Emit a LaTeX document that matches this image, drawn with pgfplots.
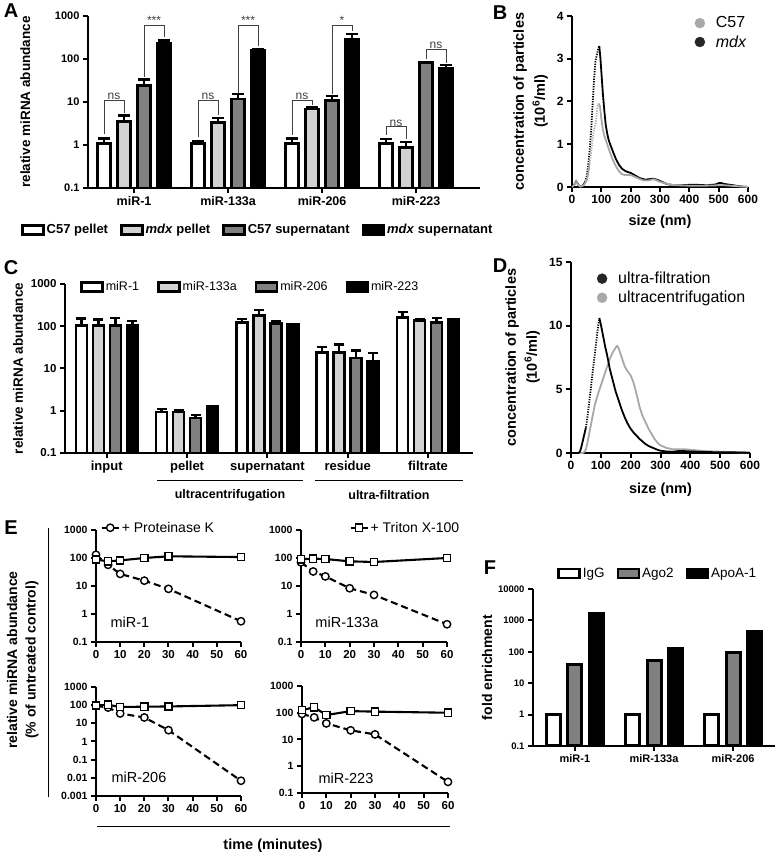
\documentclass[border=0pt]{standalone}
\usepackage{fontspec}
\setmainfont{Liberation Sans}
\usepackage{pgfplots}
\pgfplotsset{compat=1.18}
\definecolor{lg}{HTML}{D2D2D2}
\definecolor{dg}{HTML}{808080}
\definecolor{cg}{HTML}{A8A8A8}
\pgfplotsset{
  prism/.style={scale only axis, axis lines=left, axis line style={line width=2pt,-}, tick align=outside,
    major tick length=5pt, tick style={line width=2pt, black}, /pgf/number format/assume math mode=true,
    xminorticks=false, yminorticks=false, clip=false, anchor=south west},
  barleg/.style={legend image code/.code={\draw[##1, line width=2.5pt] (0pt,-4.5pt) rectangle (21pt,4.5pt);}},
  eb/.style={ycomb, forget plot, black, line width=2.5pt, mark=-, mark size=#1, mark options={line width=2.5pt}},
  estyle/.style={prism, xmin=0, xmax=60, xtick={0,10,...,60},
   xticklabel style={font=\bfseries\fs{11.5}}, yticklabel style={font=\bfseries\fs{10.5}},
   legend style={draw=none, fill=none, anchor=west, font=\fs{14}}, legend cell align=left},
  pk/.style={black, line width=2.1pt, dash pattern=on 7pt off 4pt, mark=*, mark size=3.7pt, mark options={solid, fill=white, draw=black, line width=1.4pt}},
  tx/.style={black, line width=2.1pt, mark=square*, mark size=3.6pt, mark options={solid, fill=white, draw=black, line width=1.4pt}},
}
\newcommand{\fs}[1]{\fontsize{#1}{#1}\selectfont}
\begin{document}
\begin{tikzpicture}
\useasboundingbox (0,0) rectangle (777pt,856pt);
% ---------------- Panel A
\begin{axis}[prism, at={(88pt,668pt)}, width=392pt, height=172pt,
 ymode=log, log origin y=infty, ymin=0.1, ymax=1000,
 ytick={0.1,1,10,100,1000}, yticklabels={0.1,1,10,100,1000},
 xmin=-0.49, xmax=3.68, xtick={0,1,2,3}, xticklabels={miR-1,miR-133a,miR-206,miR-223},
 ybar=7pt, bar width=13pt,
 yticklabel style={font=\bfseries\fs{11}},
 xticklabel style={font=\bfseries\fs{12.5}},
 ylabel={relative miRNA abundance},
 ylabel style={font=\bfseries\fs{13.5}, at={(axis description cs:-0.16,0.5)}, anchor=center},
 legend columns=4,
 legend style={draw=none, fill=none, at={(-0.171,-0.244)}, anchor=west, font=\bfseries\fs{13},
   /tikz/every even column/.append style={column sep=10pt}, inner sep=0pt},
 legend cell align=left]
% error bars (upper ends: mean + SEM)
\addplot[eb=6pt] coordinates {(-0.3191,1.40) (0.6809,1.20) (1.6809,1.40) (2.6809,1.38)};
\addplot[eb=6pt] coordinates {(-0.1064,4.9) (0.8936,4.2) (1.8936,7.5) (2.8936,1.17)};
\addplot[eb=6pt] coordinates {(0.1064,33) (1.1064,15.2) (2.1064,13.8) (3.1064,86)};
\addplot[eb=6pt] coordinates {(0.3191,270) (1.3191,170) (2.3191,385) (3.3191,72)};
% bars
\addplot[fill=white, draw=black, line width=2.7pt, barleg] coordinates {(0,1.07) (1,1.07) (2,1.07) (3,1.07)};
\addplot[fill=lg, draw=black, line width=2.7pt, barleg] coordinates {(0,3.5) (1,3.3) (2,6.9) (3,0.89)};
\addplot[fill=dg, draw=black, line width=2.7pt, barleg] coordinates {(0,24) (1,11.7) (2,10.7) (3,83)};
\addplot[fill=black, draw=black, line width=2.7pt, barleg] coordinates {(0,237) (1,160) (2,293) (3,61)};
\legend{C57 pellet, \textit{mdx} pellet, C57 supernatant, \textit{mdx} supernatant}
% significance brackets
\tikzset{br/.style={line width=1pt, black!75}, brt/.style={anchor=south, inner sep=0.5pt, text=black!75, font=\fs{12}}}
\draw[br] (axis cs:-0.3191,1.85) |- (axis cs:-0.1064,11.1) -- (axis cs:-0.1064,5.4);
\node[brt] at (axis cs:-0.2128,11.1) {ns};
\draw[br] (axis cs:0.1064,38) |- (axis cs:0.3191,600) -- (axis cs:0.3191,330);
\node[brt] at (axis cs:0.2128,600) {***};
\draw[br] (axis cs:0.6809,1.5) |- (axis cs:0.8936,11.1) -- (axis cs:0.8936,5.0);
\node[brt] at (axis cs:0.7872,11.1) {ns};
\draw[br] (axis cs:1.1064,16.6) |- (axis cs:1.3191,600) -- (axis cs:1.3191,200);
\node[brt] at (axis cs:1.2128,600) {***};
\draw[br] (axis cs:1.6809,1.7) |- (axis cs:1.8936,11.1) -- (axis cs:1.8936,8.5);
\node[brt] at (axis cs:1.7872,11.1) {ns};
\draw[br] (axis cs:2.1064,15) |- (axis cs:2.3191,600) -- (axis cs:2.3191,445);
\node[brt] at (axis cs:2.2128,600) {*};
\draw[br] (axis cs:2.6809,1.7) |- (axis cs:2.8936,2.63) -- (axis cs:2.8936,1.4);
\node[brt] at (axis cs:2.7872,2.63) {ns};
\draw[br] (axis cs:3.1064,100) |- (axis cs:3.3191,165) -- (axis cs:3.3191,80);
\node[brt] at (axis cs:3.2128,165) {ns};
\end{axis}
% ---------------- Panel B
\begin{axis}[prism, at={(572pt,669pt)}, width=176pt, height=171pt,
 xmin=0, xmax=600, ymin=0, ymax=4, xtick={0,100,...,600}, ytick={0,1,2,3,4},
 ticklabel style={font=\bfseries\fs{12}},
 xlabel={size (nm)}, xlabel style={font=\bfseries\fs{14.5}, at={(axis description cs:0.5,-0.205)}, anchor=center},
 ylabel={concentration of particles\\(10\textsuperscript{6}/ml)},
 ylabel style={align=center, font=\bfseries\fontsize{14.5}{21}\selectfont, at={(axis description cs:-0.235,0.5)}, anchor=center},
 legend style={draw=none, fill=none, at={(0.68,1.02)}, anchor=north west, font=\fs{16}, row sep=2pt,
   /tikz/every odd column/.append style={column sep=9pt}},
 legend cell align=left]
\addlegendimage{only marks, mark=*, mark size=5pt, color=cg}
\addlegendentry{C57}
\addlegendimage{only marks, mark=*, mark size=5pt, color=black!85}
\addlegendentry{\textit{mdx}}
\addplot[black, line width=1.8pt, forget plot] coordinates {(0,0) (5,0.03) (10,0.08) (14,0.13) (18,0.09) (24,0.03) (30,0.01) (38,0.04) (45,0.12)};
\addplot[black, line width=1.8pt, dash pattern=on 1.2pt off 1.3pt, forget plot] coordinates {(45,0.12) (50,0.25) (55,0.5) (60,0.85) (65,1.3) (70,1.9) (75,2.5) (80,2.95) (85,3.1) (90,3.25) (93,3.3)};
\addplot[black, line width=1.8pt, forget plot] coordinates {(93,3.3) (97,3.0) (100,2.7) (105,2.2) (110,1.8) (115,1.45) (120,1.25) (125,1.1) (130,1.0) (140,0.82) (150,0.65) (160,0.52) (170,0.43) (180,0.38) (190,0.35) (200,0.33) (210,0.29) (220,0.25) (230,0.21) (240,0.19) (250,0.17) (260,0.18) (270,0.19) (280,0.19) (290,0.17) (300,0.14) (310,0.11) (320,0.08) (330,0.06) (350,0.04) (370,0.04) (400,0.05) (430,0.05) (460,0.04) (490,0.06) (500,0.09) (510,0.09) (520,0.07) (540,0.05) (560,0.03) (580,0.01) (600,0)};
\addplot[cg, line width=1.8pt, forget plot] coordinates {(0,0) (5,0.03) (10,0.07) (14,0.12) (18,0.08) (24,0.03) (30,0.01) (40,0.04) (50,0.15) (55,0.3) (60,0.55)};
\addplot[cg, line width=1.8pt, dash pattern=on 1.2pt off 1.3pt, forget plot] coordinates {(60,0.55) (65,0.8) (70,1.1) (75,1.35) (78,1.4) (82,1.55) (86,1.85) (90,1.95)};
\addplot[cg, line width=1.8pt, forget plot] coordinates {(90,1.95) (95,1.9) (100,1.6) (105,1.35) (110,1.2) (115,1.1) (120,1.0) (130,0.8) (140,0.62) (150,0.48) (160,0.37) (170,0.3) (180,0.28) (190,0.28) (200,0.28) (210,0.25) (220,0.22) (230,0.19) (240,0.16) (250,0.15) (260,0.15) (270,0.17) (280,0.18) (290,0.15) (300,0.12) (320,0.08) (340,0.05) (360,0.04) (400,0.03) (450,0.03) (500,0.04) (520,0.04) (560,0.02) (600,0)};
\end{axis}
% ---------------- Panel C
\begin{axis}[prism, at={(65pt,403pt)}, width=408pt, height=169pt,
 ymode=log, log origin y=infty, ymin=0.1, ymax=1000,
 ytick={0.1,1,10,100,1000}, yticklabels={0.1,1,10,100,1000},
 xmin=-0.52, xmax=4.56, xtick={0,1,2,3,4}, xticklabels={input,pellet,supernatant,residue,filtrate},
 ybar=6pt, bar width=11pt,
 yticklabel style={font=\bfseries\fs{11.5}},
 xticklabel style={font=\bfseries\fs{13}},
 ylabel={relative miRNA abundance},
 ylabel style={font=\bfseries\fs{13.5}, at={(axis description cs:-0.115,0.5)}, anchor=center},
 legend columns=4,
 legend style={draw=none, fill=none, at={(0.037,0.982)}, anchor=west, font=\fs{12.5},
   /tikz/every even column/.append style={column sep=16pt}, inner sep=0pt},
 legend cell align=left]
% error bars (upper ends)
\addplot[eb=5pt] coordinates {(-0.3175,151) (0.6825,1.10) (1.6825,150) (2.6825,32) (3.6825,215)};
\addplot[eb=5pt] coordinates {(-0.1058,143) (0.8942,1.01) (1.8942,240) (2.8942,37) (3.8942,145)};
\addplot[eb=5pt] coordinates {(0.1058,156) (1.1058,0.80) (2.1058,128) (3.1058,27) (4.1058,155)};
\addplot[eb=5pt] coordinates {(0.3175,133) (1.3175,1.31) (2.3175,114) (3.3175,23) (4.3175,150)};
% bars
\addplot[fill=white, draw=black, line width=2.5pt, barleg] coordinates {(0,105) (1,0.93) (2,124) (3,24) (4,163)};
\addplot[fill=lg, draw=black, line width=2.5pt, barleg] coordinates {(0,105) (1,0.93) (2,180) (3,24) (4,138)};
\addplot[fill=dg, draw=black, line width=2.5pt, barleg] coordinates {(0,105) (1,0.67) (2,117) (3,17.5) (4,124)};
\addplot[fill=black, draw=black, line width=2.5pt, barleg] coordinates {(0,105) (1,1.26) (2,112) (3,15) (4,146)};
\legend{miR-1, miR-133a, miR-206, miR-223}
\end{axis}
\draw[line width=1pt] (157pt,375pt) -- (303pt,375pt);
\draw[line width=1pt] (315pt,375pt) -- (463pt,375pt);
\node[font=\bfseries\fs{12.5}] at (230pt,361pt) {ultracentrifugation};
\node[font=\bfseries\fs{12.5}] at (389pt,361pt) {ultra-filtration};
% ---------------- Panel D
\begin{axis}[prism, at={(571pt,403pt)}, width=179pt, height=191pt,
 xmin=0, xmax=600, ymin=0, ymax=15, xtick={0,100,...,600}, ytick={0,5,10,15},
 ticklabel style={font=\bfseries\fs{12}},
 xlabel={size (nm)}, xlabel style={font=\bfseries\fs{14.5}, at={(axis description cs:0.5,-0.194)}, anchor=center},
 ylabel={concentration of particles\\(10\textsuperscript{6}/ml)},
 ylabel style={align=center, font=\bfseries\fontsize{14.5}{21}\selectfont, at={(axis description cs:-0.27,0.5)}, anchor=center},
 legend style={draw=none, fill=none, at={(0.128,0.969)}, anchor=north west, font=\fs{16}, row sep=2pt,
   /tikz/every odd column/.append style={column sep=9pt}},
 legend cell align=left]
\addlegendimage{only marks, mark=*, mark size=5pt, color=black!85}
\addlegendentry{ultra-filtration}
\addlegendimage{only marks, mark=*, mark size=5pt, color=cg}
\addlegendentry{ultracentrifugation}
\addplot[cg, line width=1.8pt, forget plot] coordinates {(0,0) (40,0) (45,0.1) (50,0.3) (55,0.8) (60,1.4) (70,2.6) (80,3.8) (90,4.6) (100,5.3) (110,6.0) (120,6.7) (126,7.1) (130,7.4) (140,7.9) (150,8.3) (155,8.4) (160,8.2) (170,7.5) (180,6.8) (190,6.4) (200,6.1) (210,5.5) (220,4.6) (230,3.6) (240,2.9) (250,2.4) (260,1.9) (270,1.5) (280,1.1) (290,0.8) (300,0.6) (320,0.4) (340,0.3) (360,0.3) (380,0.3) (400,0.25) (450,0.15) (500,0.1) (550,0.06) (600,0.03)};
\addplot[black, line width=1.8pt, forget plot] coordinates {(0,0) (25,0) (30,0.1) (35,0.5) (40,1.0) (45,1.5) (50,2.0)};
\addplot[black, line width=1.8pt, dash pattern=on 1.2pt off 1.3pt, forget plot] coordinates {(50,2.0) (55,2.8) (60,3.8) (65,4.8) (70,5.8) (75,6.8) (80,7.8) (85,8.8) (90,9.8) (95,10.6)};
\addplot[black, line width=1.8pt, forget plot] coordinates {(95,10.6) (100,10.1) (105,9.5) (110,8.9) (115,8.3) (120,7.8) (126,7.1) (130,6.6) (140,5.7) (150,4.8) (160,4.1) (170,3.4) (180,2.8) (190,2.3) (200,1.9) (210,1.6) (220,1.35) (230,1.1) (240,0.9) (250,0.7) (260,0.55) (270,0.45) (280,0.35) (290,0.25) (300,0.18) (320,0.12) (340,0.1) (360,0.15) (380,0.15) (400,0.12) (450,0.08) (500,0.05) (550,0.05) (600,0.02)};
\end{axis}
% ---------------- Panel E
\begin{axis}[estyle, ymode=log, at={(96pt,214pt)}, width=145pt, height=112pt, ymin=0.1, ymax=1000,
 ytick={0.1,1,10,100,1000}, yticklabels={0.1,1,10,100,1000}, legend style={at={(0.01,1.02)}}]
\addplot[pk] coordinates {(0,130) (5,57) (10,27) (20,15.5) (30,7.9) (60,0.55)};
\addlegendentry{+ Proteinase K}
\addplot[tx, forget plot] coordinates {(0,88) (5,76) (10,82) (20,100) (30,115) (60,108)};
\node[anchor=west, font=\fs{14.5}] at (rel axis cs:0.076,0.18) {miR-1};
\end{axis}
\begin{axis}[estyle, ymode=log, at={(301pt,214pt)}, width=146pt, height=112pt, ymin=0.1, ymax=1000,
 ytick={0.1,1,10,100,1000}, yticklabels={0.1,1,10,100,1000}, legend style={at={(0.31,1.02)}}]
\addplot[pk, forget plot] coordinates {(0,70) (5,33) (10,22) (20,8.3) (30,4.8) (60,0.43)};
\addplot[tx] coordinates {(0,90) (5,95) (10,92) (20,76) (30,72) (60,100)};
\addlegendentry{+ Triton X-100}
\node[anchor=west, font=\fs{14.5}] at (rel axis cs:0.075,0.18) {miR-133a};
\end{axis}
\begin{axis}[estyle, ymode=log, at={(96pt,60pt)}, width=145pt, height=109pt, ymin=0.001, ymax=1000,
 ytick={0.001,0.01,0.1,1,10,100,1000}, yticklabels={0.001,0.01,0.1,1,10,100,1000}]
\addplot[pk] coordinates {(0,92) (5,74) (10,35) (20,21) (30,4.2) (60,0.0069)};
\addplot[tx] coordinates {(0,95) (5,105) (10,80) (20,82) (30,85) (60,100)};
\node[anchor=west, font=\fs{14.5}] at (rel axis cs:0.083,0.174) {miR-206};
\end{axis}
\begin{axis}[estyle, ymode=log, at={(302pt,63pt)}, width=146pt, height=107pt, ymin=0.1, ymax=1000,
 ytick={0.1,1,10,100,1000}, yticklabels={0.1,1,10,100,1000}]
\addplot[pk] coordinates {(0,90) (5,67) (10,40) (20,22) (30,15.5) (60,0.26)};
\addplot[tx] coordinates {(0,125) (5,160) (10,82) (20,115) (30,110) (60,100)};
\node[anchor=west, font=\fs{14.5}] at (rel axis cs:0.089,0.14) {miR-223};
\end{axis}
\draw[line width=1pt] (48pt,328pt) -- (48pt,59pt);
\draw[line width=1pt] (97pt,29pt) -- (450pt,29pt);
\node[font=\bfseries\fs{14.5}] at (273pt,10pt) {time (minutes)};
\node[rotate=90, font=\bfseries\fs{14}] at (12pt,196pt) {relative miRNA abundance};
\node[rotate=90, font=\bfseries\fs{14}] at (32pt,196pt) {(\% of untreated control)};
% ---------------- Panel F
\begin{axis}[prism, at={(533pt,110pt)}, width=242pt, height=157pt,
 ymode=log, log origin y=infty, ymin=0.1, ymax=10000,
 ytick={0.1,1,10,100,1000,10000}, yticklabels={0.1,1,10,100,1000,10000},
 xmin=-0.53, xmax=2.53, xtick={0,1,2}, xticklabels={miR-1,miR-133a,miR-206},
 ybar=7.7pt, bar width=14pt,
 yticklabel style={font=\bfseries\fs{9.5}},
 xticklabel style={font=\bfseries\fs{11}},
 ylabel={fold enrichment},
 ylabel style={font=\bfseries\fs{14}, at={(axis description cs:-0.19,0.5)}, anchor=center},
 legend columns=3,
 legend style={draw=none, fill=none, at={(0.1,1.10)}, anchor=west, font=\fs{13.5},
   /tikz/every even column/.append style={column sep=10pt}, inner sep=0pt},
 legend cell align=left]
\addplot[fill=white, draw=black, line width=3pt, barleg] coordinates {(0,1) (1,1) (2,1)};
\addplot[fill=dg, draw=black, line width=3pt, barleg] coordinates {(0,39) (1,51) (2,95)};
\addplot[fill=black, draw=black, line width=3pt, barleg] coordinates {(0,1700) (1,125) (2,450)};
\legend{IgG, Ago2, ApoA-1}
\end{axis}
% ---------------- Panel letters
\node[font=\bfseries\fs{20}] at (11pt,845pt) {A};
\node[font=\bfseries\fs{20}] at (500pt,843pt) {B};
\node[font=\bfseries\fs{20}] at (11pt,588pt) {C};
\node[font=\bfseries\fs{20}] at (500pt,590pt) {D};
\node[font=\bfseries\fs{20}] at (11pt,328pt) {E};
\node[font=\bfseries\fs{20}] at (490pt,288pt) {F};
\end{tikzpicture}
\end{document}
